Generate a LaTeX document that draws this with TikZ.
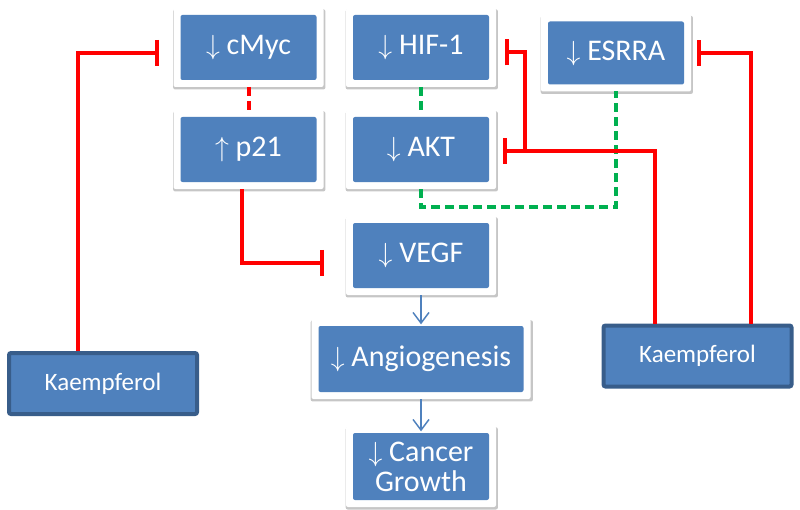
\documentclass[tikz,border=0pt]{standalone}
\usepackage{fontspec}
\setmainfont{Carlito}
\usetikzlibrary{arrows.meta, positioning, shadows, calc}
\definecolor{boxblue}{HTML}{4F81BD}
\definecolor{drugline}{HTML}{385D8A}
\definecolor{inhred}{HTML}{FF0000}
\definecolor{actgreen}{HTML}{00B050}
\tikzset{%
  box/.style={
    rectangle, fill=white, rounded corners=1.5pt,
    minimum width=112.5pt, minimum height=59.25pt,
    inner sep=0pt, outer sep=0pt, align=center,
    text=white, font=\fontsize{22.5}{22.5}\selectfont,
    drop shadow={shadow xshift=0.6pt, shadow yshift=-1.4pt, shadow scale=1.015, opacity=0.45},
    path picture={\fill[boxblue]
      ([shift={(5.25pt,5.25pt)}]path picture bounding box.south west) rectangle
      ([shift={(-5.25pt,-5.25pt)}]path picture bounding box.north east);}
  },
  drug/.style={
    rectangle, draw=drugline, line width=3pt, fill=boxblue, rounded corners=1.5pt,
    minimum width=141pt, minimum height=45.75pt,
    text=white, font=\fontsize{18.75}{22}\selectfont
  },
  inhib/.style={draw=inhred, line width=3pt, -{Bar[width=19.5pt]}},
  link/.style={line width=3pt, dash pattern=on 6.75pt off 3.75pt},
  flow/.style={draw=boxblue, line width=1.1pt, -{Straight Barb[length=8pt,width=12pt]}}
}
\begin{document}
\begin{tikzpicture}[x=0.75pt, y=-0.75pt]
  \useasboundingbox (0,0) rectangle (800,510);

  \node[box] (cmyc) at (248.5,47.5) {$\downarrow$ cMyc};
  \node[box] (hif) at (421,47.5) {$\downarrow$ HIF-1};
  \node[box, minimum height=57.75pt] (esrra) at (616,53) {$\downarrow$ ESRRA};
  \node[box, below=17.25pt of cmyc] (p21) {$\uparrow$ p21};
  \node[box, below=17.25pt of hif] (akt) {$\downarrow$ AKT};
  \node[box, below=20.25pt of akt] (vegf) {$\downarrow$ VEGF};
  \node[box, below=18pt of vegf, minimum width=164.25pt, minimum height=60pt] (angio) {$\downarrow$ Angiogenesis};
  \node[box, below=20.25pt of angio, minimum height=60.75pt] (growth) {$\downarrow$ Cancer\\Growth};

  \node[drug] (kl) at (103,383.5) {Kaempferol};
  \node[drug] (kr) at (697.5,356) {Kaempferol};

  \draw[link, inhred] (cmyc) -- (p21);
  \draw[link, actgreen] (hif) -- (akt);
  \draw[link, actgreen] (akt.south) -- ++(0,-13.5pt) -| (esrra.south);

  \draw[inhib, shorten >=10.9pt] ([xshift=-18.75pt]kl.north) |- ([yshift=-4.1pt]cmyc.west);
  \draw[inhib, shorten >=5.25pt] ([xshift=-31.9pt]kr.north) |- ([yshift=-1.1pt]akt.east);
  \coordinate (jn) at ($([yshift=-1.1pt]akt.east)+(21.75pt,0)$);
  \draw[inhib, shorten >=6.75pt] (jn) |- ([yshift=-3.75pt]hif.east);
  \draw[inhib, shorten >=4.5pt] ([xshift=40.1pt]kr.north) |- (esrra.east);
  \draw[inhib, shorten >=16.5pt] ([xshift=-4.9pt]p21.south) |- ([yshift=-5.6pt]vegf.west);

  \draw[flow, shorten >=-4pt] (vegf) -- (angio);
  \draw[flow, shorten >=-4pt] (angio) -- (growth);
\end{tikzpicture}
\end{document}
